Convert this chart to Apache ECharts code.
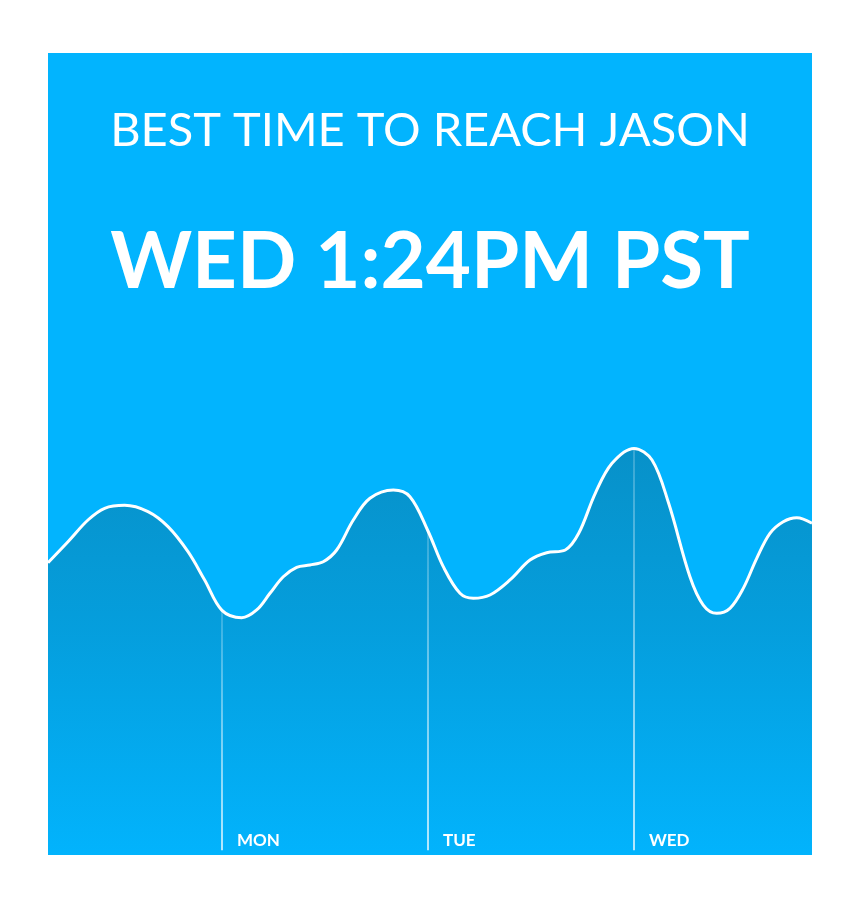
<!DOCTYPE html>
<html>
<head>
<meta charset="utf-8">
<title>Best time to reach Jason</title>
<script src="https://cdn.jsdelivr.net/npm/echarts@6.0.0/dist/echarts.min.js"></script>
<style>
  html, body { margin: 0; padding: 0; background: #fff; }
  #chart { width: 860px; height: 906px; }
</style>
</head>
<body>
<div id="chart"></div>
<script>
// hours counted from Sunday 00:00
const hours = [3.73, 6.06, 8.39, 10.33, 12.66, 15.38, 17.71, 20.04, 21.98, 24, 26.3, 28.04, 29.59, 31.14, 32.7,
    34.25, 35.8, 37.36, 39.3, 41.24, 43.96, 45.9, 48, 49.78, 51.73, 53.28, 55.22, 57.55, 59.88, 61.83, 64, 65.56,
    67.49, 69.44, 72, 74.1, 76.04, 78.52, 80.07, 81.64, 83.18, 84.73, 86.3, 87.84, 89.39, 90.96, 92.74];
const activity = [36.45, 39.06, 41.77, 43.23, 43.6, 42.81, 40.94, 37.82, 34.29, 30.5, 29.59, 30.55, 32.63, 34.7, 35.87,
    36.16, 36.57, 38.03, 41.77, 44.48, 45.51, 44.68, 40.4, 35.95, 32.63, 32.01, 32.42, 34.29, 36.78, 37.69, 38.03, 40.11,
    45.1, 48.84, 50.7, 49.25, 43.85, 34.7, 31.17, 30.14, 30.76, 33.25, 36.99, 40.11, 41.56, 42.06, 41.36];
const dayHours = [24, 48, 72];
const dayNames = ['MON', 'TUE', 'WED'];
const headline = 'BEST TIME TO REACH JASON';
const bestTime = 'WED 1:24PM PST';

document.addEventListener('DOMContentLoaded', function() {
    const chart = echarts.init(document.getElementById('chart'));

    const points = hours.map((h, i) => [h, activity[i]]);

    // day separators run from the bottom up to the curve
    const dayLines = dayHours.map(h => {
        const v = activity[hours.indexOf(h)];
        return [{ coord: [h, 0.6] }, { coord: [h, v] }];
    });

    chart.setOption({
        animation: false,
        title: [{
            text: headline,
            left: 'center',
            top: 102,
            textStyle: { color: '#fff', fontFamily: 'Lato', fontWeight: 'normal', fontSize: 47 }
        }, {
            text: bestTime,
            left: 'center',
            top: 219,
            textStyle: { color: '#fff', fontFamily: 'Lato', fontWeight: 'bold', fontSize: 78 }
        }],
        grid: {
            show: true,
            left: 48,
            right: 48,
            top: 53,
            bottom: 51,
            backgroundColor: '#02b4fe',
            borderWidth: 0
        },
        xAxis: {
            type: 'value',
            min: 3.73,
            max: 92.74,
            z: 10,
            axisLine: { show: false },
            axisTick: { show: false },
            splitLine: { show: false },
            axisLabel: {
                customValues: dayHours,
                inside: true,
                margin: 6,
                align: 'left',
                padding: [0, 0, 0, 15],
                color: '#fff',
                fontFamily: 'Lato',
                fontWeight: 'bold',
                fontSize: 17,
                formatter: v => dayNames[dayHours.indexOf(v)] || ''
            }
        },
        yAxis: {
            type: 'value',
            min: 0,
            max: 100,
            show: false
        },
        series: [{
            type: 'line',
            data: points,
            smooth: 0.35,
            symbol: 'none',
            silent: true,
            lineStyle: { color: '#fff', width: 3 },
            areaStyle: {
                color: new echarts.graphic.LinearGradient(0, 0, 0, 1, [
                    { offset: 0, color: '#0a82b2' },
                    { offset: 0.45, color: '#0695cf' },
                    { offset: 1, color: '#02b3fc' }
                ])
            },
            markLine: {
                silent: true,
                symbol: ['none', 'none'],
                label: { show: false },
                lineStyle: {
                    type: 'solid',
                    width: 1.5,
                    color: new echarts.graphic.LinearGradient(0, 0, 0, 1, [
                        { offset: 0, color: 'rgba(255,255,255,0.25)' },
                        { offset: 1, color: 'rgba(255,255,255,0.95)' }
                    ])
                },
                data: dayLines
            }
        }]
    });
});
</script>
</body>
</html>
